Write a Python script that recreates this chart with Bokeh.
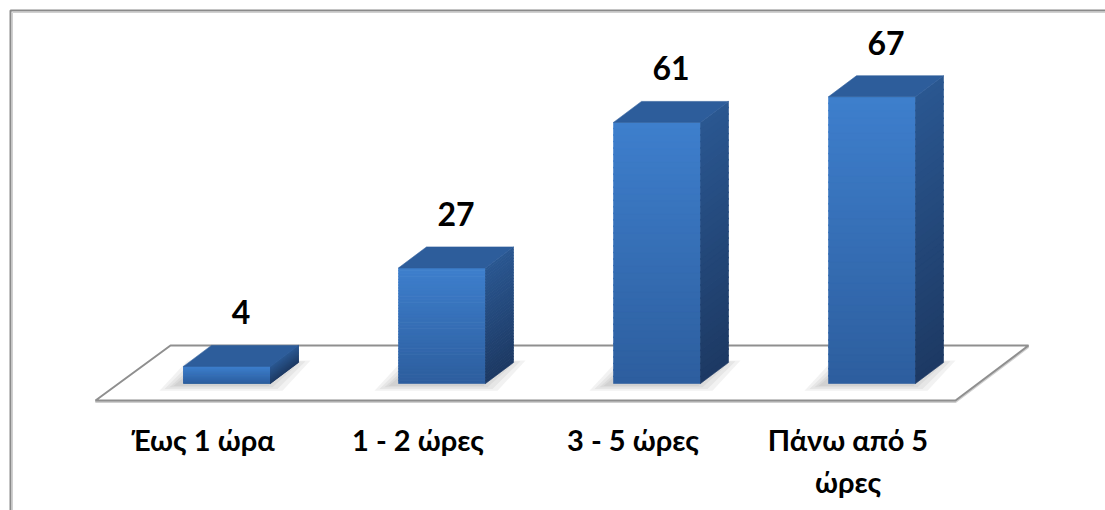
from bokeh.plotting import figure
from bokeh.embed import file_html
from bokeh.resources import INLINE
from bokeh.core.properties import value

# ---- data ----
categories = ["Έως 1 ώρα", "1 - 2 ώρες", "3 - 5 ώρες", "Πάνω από 5\nώρες"]
counts = [4, 27, 61, 67]

# ---- canvas geometry (pixels) ----
W, H = 1105, 510
PX_PER_CAT = 215.0      # horizontal spacing between categories
PX_PER_UNIT = 4.28      # vertical pixels per count unit
BASE_PX = 383.0         # pixel row of the bar bases (from top)
FIRST_PX = 226.5        # pixel column of the first bar's front centre

x_start = -FIRST_PX / PX_PER_CAT
x_end = x_start + W / PX_PER_CAT
y_start = -(H - BASE_PX) / PX_PER_UNIT
y_end = y_start + H / PX_PER_UNIT


def sx(px):
    return x_start + px / PX_PER_CAT


def sy(py):
    return y_start + (H - py) / PX_PER_UNIT


def dxu(px):
    return px / PX_PER_CAT


def dyu(px):
    return px / PX_PER_UNIT


BAR_W = dxu(87)
DEPTH_X = dxu(28)
DEPTH_Y = dyu(21)

p = figure(width=W, height=H, x_range=(x_start, x_end), y_range=(y_start, y_end),
           output_backend="svg", toolbar_location=None, min_border=0,
           x_axis_location=None, y_axis_location=None,
           background_fill_color="white", border_fill_color="white")
p.grid.visible = False
p.outline_line_color = None

# chart area border (left and top edges)
p.line([sx(10), sx(10), sx(1200)], [sy(600), sy(10), sy(10)],
       line_color="#8a8a8a", line_width=2)
p.line([sx(12), sx(12), sx(1200)], [sy(600), sy(12), sy(12)],
       line_color="#d0d0d0", line_width=1)

# floor plane
floor_x = [sx(95), sx(955), sx(1028), sx(170)]
floor_y = [sy(400), sy(400), sy(345), sy(345)]
p.patch(floor_x, [y - dyu(1.5) for y in floor_y],
        fill_color=None, line_color="#cfcfcf", line_width=2)
p.patch(floor_x, floor_y, fill_color="white", line_color="#8f8f8f", line_width=2)


def lerp_color(c0, c1, t):
    a = [int(c0[i:i + 2], 16) for i in (1, 3, 5)]
    b = [int(c1[i:i + 2], 16) for i in (1, 3, 5)]
    return "#%02x%02x%02x" % tuple(round(a[k] + (b[k] - a[k]) * t) for k in range(3))


FRONT_TOP, FRONT_BOT = "#3e7fcd", "#2d5e9e"
SIDE_TOP, SIDE_BOT = "#2a5791", "#1d3963"
TOP_FACE = "#2d5d9b"
N = 40

# soft shadows on the floor
for i, v in enumerate(counts):
    xl = i - BAR_W / 2
    xr = i + BAR_W / 2
    for e in (18, 13, 8, 4):
        ex = dxu(e)
        ey = dyu(e * 0.35)
        off = dxu(-6)
        p.patch([xl - ex + off, xr + ex + off, xr + DEPTH_X + ex + off, xl + DEPTH_X - ex + off],
                [-ey - dyu(1), -ey - dyu(1), DEPTH_Y + ey * 0.3, DEPTH_Y + ey * 0.3],
                fill_color="#6e6e6e", fill_alpha=0.09, line_color=None)

# 3D bars: front face, side face and top face
for i, v in enumerate(counts):
    xl = i - BAR_W / 2
    xr = i + BAR_W / 2
    fxs, fys, fcs = [], [], []
    sxs, sys_, scs = [], [], []
    for k in range(N):
        y0 = v * k / N
        y1 = min(v * (k + 1) / N + (v / N) * 0.15, v)
        t = 1 - (k + 0.5) / N
        fxs.append([xl, xr, xr, xl])
        fys.append([y0, y0, y1, y1])
        fcs.append(lerp_color(FRONT_TOP, FRONT_BOT, t))
        sxs.append([xr, xr + DEPTH_X, xr + DEPTH_X, xr])
        sys_.append([y0, y0 + DEPTH_Y, y1 + DEPTH_Y, y1])
        scs.append(lerp_color(SIDE_TOP, SIDE_BOT, t))
    p.patches(fxs, fys, fill_color=fcs, line_color=fcs, line_width=0.6)
    p.patches(sxs, sys_, fill_color=scs, line_color=scs, line_width=0.6)
    p.patch([xl, xr, xr + DEPTH_X, xl + DEPTH_X], [v, v, v + DEPTH_Y, v + DEPTH_Y],
            fill_color=TOP_FACE, line_color=TOP_FACE, line_width=0.6)

# value labels above each bar
p.text(x=[i + DEPTH_X / 2 for i in range(len(counts))],
       y=[v + DEPTH_Y + dyu(33) for v in counts],
       text=[str(v) for v in counts],
       text_font=value("Lato"), text_font_style="bold", text_font_size="32px",
       text_color="#000000", text_align="center", text_baseline="alphabetic")

# category labels along the floor's front edge
lx, ly, lt = [], [], []
for i, c in enumerate(categories):
    for j, line in enumerate(c.split("\n")):
        lx.append(i - dxu(24))
        ly.append(sy(439 + 42 * j))
        lt.append(line)
p.text(x=lx, y=ly, text=lt,
       text_font=value("Lato"), text_font_style="bold", text_font_size="29px",
       text_color="#000000", text_align="center", text_baseline="alphabetic")

open("out.html", "w").write(file_html(p, INLINE))
